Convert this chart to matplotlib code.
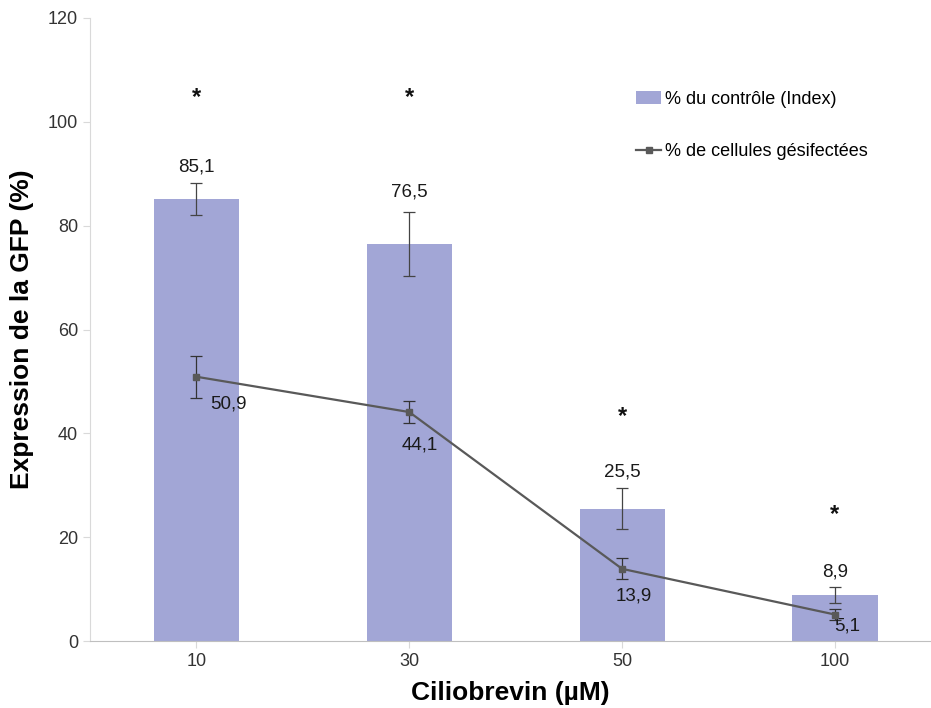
import matplotlib
matplotlib.use("Agg")
import matplotlib.pyplot as plt
from matplotlib.lines import Line2D
from matplotlib.patches import Patch

plt.rcParams['font.family'] = ['Liberation Sans', 'DejaVu Sans']

concentrations = ["10", "30", "50", "100"]
control_pct = [85.1, 76.5, 25.5, 8.9]
control_err = [3.1, 6.2, 3.9, 1.6]
infected_pct = [50.9, 44.1, 13.9, 5.1]
infected_err = [4.0, 2.2, 2.0, 1.0]
star_level = [104.6, 104.6, 43.3, 24.4]
control_label_y = [91.3, 86.5, 32.6, 13.3]

bar_color = "#A2A6D6"
line_color = "#595959"

fig = plt.figure(figsize=(9.31, 7.08), dpi=100)
ax = fig.add_axes([0.0967, 0.0946, 0.903, 0.88])

x = list(range(len(concentrations)))
ax.bar(x, control_pct, width=0.4, color=bar_color, zorder=1)
ax.errorbar(x, control_pct, yerr=control_err, fmt="none", ecolor="#444444",
            elinewidth=0.9, capsize=4.5, capthick=0.9, zorder=2)
ax.errorbar(x, infected_pct, yerr=infected_err, color=line_color, lw=1.6,
            marker="s", markersize=5, ecolor="#333333", elinewidth=0.9,
            capsize=4.5, capthick=0.9, zorder=3)

for xi, v, ly in zip(x, control_pct, control_label_y):
    ax.text(xi, ly, f"{v:.1f}".replace(".", ","), ha="center", va="center",
            fontsize=13.5, color="#1a1a1a")

line_offsets = [(0.15, -5.2), (0.047, -6.3), (0.056, -5.2), (0.056, -2.3)]
for xi, v, (dx, dy) in zip(x, infected_pct, line_offsets):
    ax.text(xi + dx, v + dy, f"{v:.1f}".replace(".", ","), ha="center",
            va="center", fontsize=13.5, color="#1a1a1a")

for xi, s in zip(x, star_level):
    ax.text(xi, s, "*", ha="center", va="center", fontsize=17,
            fontweight="bold", color="#111111")

ax.set_xlim(-0.5, 3.45)
ax.set_ylim(0, 120)
ax.set_yticks(range(0, 121, 20))
ax.set_xticks(x)
ax.set_xticklabels(concentrations)
ax.tick_params(axis="both", labelsize=13, labelcolor="#333333", length=5,
               width=0.8, color="#d9d9d9")
for side in ("top", "right"):
    ax.spines[side].set_visible(False)
ax.spines["left"].set_color("#d9d9d9")
ax.spines["bottom"].set_color("#bfbfbf")

ax.set_ylabel("Expression de la GFP (%)", fontsize=19, fontweight="bold",
              labelpad=10)
ax.set_xlabel("Ciliobrevin (\u00b5M)", fontsize=19, fontweight="bold",
              labelpad=8)

handles = [
    Patch(facecolor=bar_color, edgecolor="none"),
    Line2D([0], [0], color=line_color, lw=1.6, marker="s", markersize=4),
]
labels = ["% du contrôle (Index)", "% de cellules gésifectées"]
ax.legend(handles, labels, loc="upper left", bbox_to_anchor=(0.630, 0.909),
          frameon=False, fontsize=13, labelspacing=1.95, handlelength=1.4,
          handletextpad=0.2)

fig.savefig("out.png", dpi=100)
